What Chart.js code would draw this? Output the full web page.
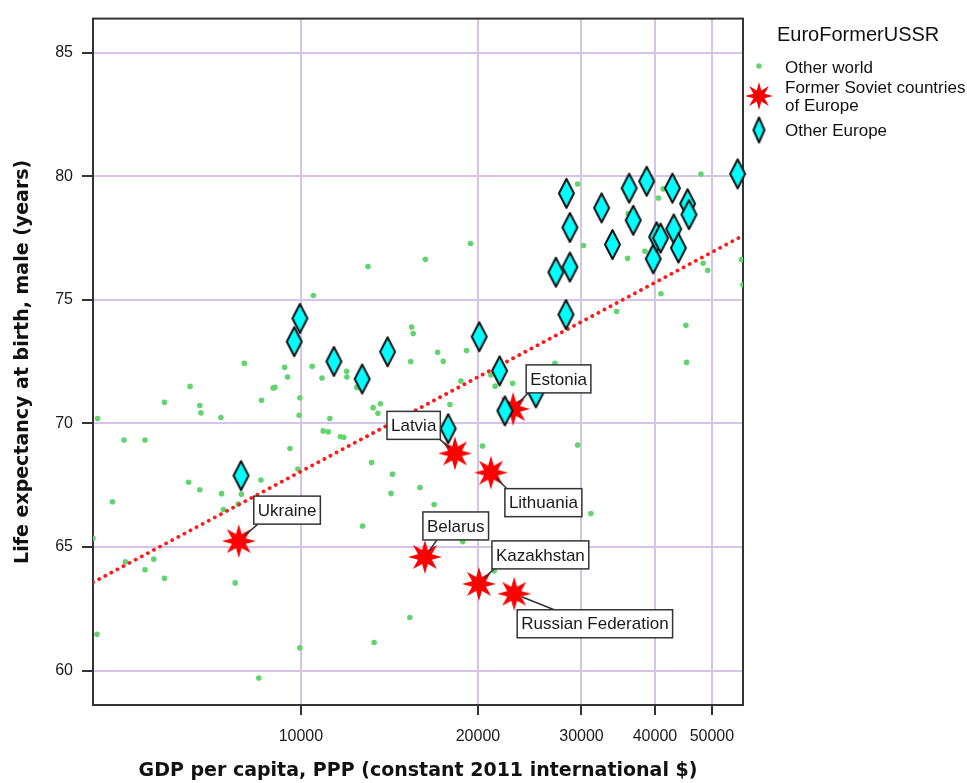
<!DOCTYPE html>
<html>
<head>
<meta charset="utf-8">
<script src="https://cdn.jsdelivr.net/npm/chart.js@4.4.1/dist/chart.umd.min.js"></script>
<style>
  body { margin: 0; background: #fff; }
  canvas { display: block; }
</style>
</head>
<body>
<canvas id="lifeGdp" width="967" height="783"></canvas>
<script>
// Other world
const otherGdp = [13000, 10500, 8010, 9380, 9490, 10450, 10860, 11960, 11970, 12450,
  6480, 5860, 6730, 6760, 7310, 8570, 8970, 9030, 9960, 9930,
  11200, 13270, 13520, 13650, 4510, 5000, 5430, 9580, 10910, 11130,
  11670, 11830, 9880, 13190, 14310, 14230, 8550, 6440, 6730, 7330,
  4780, 7920, 7380, 7820, 12730, 4430, 5030, 5620, 5430, 5860,
  7730, 15320, 4500, 13320, 9960, 8480, 16280, 19430, 15430, 15520,
  15370, 17080, 17460, 19130, 18710, 17920, 21040, 21390, 22910, 27040,
  20360, 29550, 15940, 16850, 31130, 18840, 21320, 29550, 47890, 41320,
  40550, 36030, 30230, 35940, 38460, 48320, 49170, 56120, 40950, 34430,
  45160, 45280, 56450];
const otherLife = [76.35, 75.18, 72.43, 72.27, 71.88, 72.31, 71.84, 72.11, 71.88, 71.46,
  71.50, 70.86, 70.73, 70.43, 70.24, 70.94, 71.44, 71.46, 71.04, 70.33,
  70.20, 70.64, 70.41, 70.80, 70.20, 69.33, 69.33, 68.99, 69.70, 69.66,
  69.46, 69.44, 68.16, 68.42, 67.95, 67.17, 67.71, 67.62, 67.32, 67.16,
  66.83, 67.14, 66.52, 66.74, 65.85, 65.35, 64.40, 64.51, 64.08, 63.74,
  63.55, 62.15, 61.47, 61.14, 60.92, 59.70, 76.64, 77.28, 73.90, 73.64,
  72.51, 72.88, 72.52, 72.95, 71.72, 70.77, 71.96, 71.51, 71.63, 72.43,
  69.09, 69.13, 67.41, 66.72, 66.36, 65.22, 64.04, 79.69, 80.09, 79.49,
  79.12, 78.49, 77.20, 76.68, 76.97, 76.48, 76.20, 76.63, 75.25, 74.53,
  73.97, 72.47, 75.61];

// Other Europe
const europeGdp = [7910, 9740, 9960, 11380, 12710, 14040, 17800, 20100, 21770, 22230,
  25100, 27140, 28670, 28230, 28280, 28670, 32460, 33870, 36160, 36740,
  38720, 39730, 40270, 40900, 43050, 43850, 42830, 45460, 45700, 55300];
const europeLife = [67.89, 73.31, 74.25, 72.51, 71.80, 72.90, 69.79, 73.51, 72.13, 70.51,
  71.24, 76.12, 76.33, 74.41, 79.31, 77.93, 78.72, 77.24, 79.52, 78.22,
  79.80, 76.66, 77.55, 77.50, 77.87, 77.10, 79.52, 78.89, 78.45, 80.10];

// Former Soviet countries of Europe
const sovietNames = ['Ukraine', 'Belarus', 'Latvia', 'Lithuania', 'Estonia', 'Kazakhstan', 'Russian Federation'];
const sovietGdp = [7840, 16250, 18280, 21040, 22960, 20080, 23050];
const sovietLife = [65.24, 64.60, 68.79, 68.01, 70.59, 63.51, 63.11];

// fit line end points
const fitGdp = [4430, 56470];
const fitLife = [63.57, 77.6];

const xTicks = [10000, 20000, 30000, 40000, 50000];
const yTicks = [60, 65, 70, 75, 80, 85];

// label box top-left offset from the star, and where the leader meets the box
const labelOffset = [[15, -45], [-2, -45], [-68, -42], [14, 16], [13, -44], [13, -43], [3, 16]];
const leaderEnd = [[4, 28], [14, 28], [53, 28], [2, 0], [2, 28], [2, 28], [37, 0]];

const sansFont = "'Liberation Sans', Arial, sans-serif";
const boldFont = "'DejaVu Sans', Verdana, sans-serif";

function makeDiamond(w, h) {
  const c = document.createElement('canvas');
  c.width = w + 4;
  c.height = h + 4;
  const g = c.getContext('2d');
  g.beginPath();
  g.moveTo(c.width / 2, 2);
  g.lineTo(c.width - 2, c.height / 2);
  g.lineTo(c.width / 2, c.height - 2);
  g.lineTo(2, c.height / 2);
  g.closePath();
  g.fillStyle = '#00ffff';
  g.fill();
  g.lineWidth = 2;
  g.lineJoin = 'round';
  g.strokeStyle = '#111';
  g.stroke();
  return c;
}

function makeStar(r, inner, spikes) {
  const c = document.createElement('canvas');
  c.width = c.height = r * 2 + 2;
  const g = c.getContext('2d');
  const cx = c.width / 2;
  g.beginPath();
  for (let i = 0; i < spikes * 2; i++) {
    const a = -Math.PI / 2 + i * Math.PI / spikes;
    const rr = i % 2 === 0 ? r : inner;
    g.lineTo(cx + rr * Math.cos(a), cx + rr * Math.sin(a));
  }
  g.closePath();
  g.fillStyle = '#ff0000';
  g.fill();
  return c;
}

const diamondImg = makeDiamond(15, 29);
const legendDiamond = makeDiamond(11, 25);
const starImg = makeStar(17, 7.5, 8);
const legendStar = makeStar(14, 6, 8);

const pts = (xs, ys) => xs.map((v, i) => ({ x: v, y: ys[i] }));

const decorations = {
  id: 'decorations',
  beforeDatasetsDraw(chart) {
    const { ctx, chartArea: a } = chart;
    ctx.save();
    ctx.strokeStyle = '#333';
    ctx.lineWidth = 2;
    ctx.strokeRect(a.left, a.top, a.right - a.left, a.bottom - a.top);
    ctx.restore();
  },
  afterDatasetsDraw(chart) {
    const { ctx, scales: { x, y } } = chart;
    ctx.save();
    ctx.font = '17px ' + sansFont;
    ctx.textBaseline = 'middle';
    sovietNames.forEach((name, i) => {
      const px = x.getPixelForValue(sovietGdp[i]);
      const py = y.getPixelForValue(sovietLife[i]);
      const bx = px + labelOffset[i][0];
      const by = py + labelOffset[i][1];
      const w = ctx.measureText(name).width + 8;
      const h = 28;
      const ex = bx + leaderEnd[i][0];
      const ey = by + leaderEnd[i][1];
      const d = Math.hypot(ex - px, ey - py);
      ctx.beginPath();
      ctx.moveTo(px + (ex - px) * 8 / d, py + (ey - py) * 8 / d);
      ctx.lineTo(ex, ey);
      ctx.strokeStyle = '#333';
      ctx.lineWidth = 1.5;
      ctx.stroke();
      ctx.fillStyle = '#fff';
      ctx.fillRect(bx, by, w, h);
      ctx.strokeRect(bx, by, w, h);
      ctx.fillStyle = '#1a1a1a';
      ctx.fillText(name, bx + 4, by + h / 2 + 1);
    });
    ctx.restore();
  },
  afterDraw(chart) {
    const { ctx, chartArea: a } = chart;
    ctx.save();
    // axis titles
    ctx.fillStyle = '#111';
    ctx.font = 'bold 19px ' + boldFont;
    ctx.textAlign = 'center';
    ctx.textBaseline = 'middle';
    ctx.fillText('GDP per capita, PPP (constant 2011 international $)', (a.left + a.right) / 2, 771);
    ctx.save();
    ctx.translate(23, (a.top + a.bottom) / 2);
    ctx.rotate(-Math.PI / 2);
    ctx.fillText('Life expectancy at birth, male (years)', 0, 0);
    ctx.restore();

    // legend
    ctx.textAlign = 'left';
    ctx.fillStyle = '#111';
    ctx.font = '20px ' + sansFont;
    ctx.fillText('EuroFormerUSSR', 777, 35);
    ctx.font = '17px ' + sansFont;
    ctx.fillText('Other world', 785, 68);
    ctx.fillText('Former Soviet countries', 785, 88);
    ctx.fillText('of Europe', 785, 106);
    ctx.fillText('Other Europe', 785, 131);
    ctx.fillStyle = '#62d46f';
    ctx.beginPath();
    ctx.arc(759, 66, 2.7, 0, Math.PI * 2);
    ctx.fill();
    ctx.drawImage(legendStar, 759 - legendStar.width / 2, 96 - legendStar.height / 2);
    ctx.drawImage(legendDiamond, 759 - legendDiamond.width / 2, 130 - legendDiamond.height / 2);
    ctx.restore();
  }
};

const gridColor = '#d6c4e8';

new Chart(document.getElementById('lifeGdp'), {
  type: 'scatter',
  data: {
    datasets: [
      {
        label: 'Other Europe',
        data: pts(europeGdp, europeLife),
        pointStyle: diamondImg,
        clip: false,
        order: 0
      },
      {
        label: 'Former Soviet countries of Europe',
        data: pts(sovietGdp, sovietLife),
        pointStyle: starImg,
        clip: false,
        order: 1
      },
      {
        label: 'Fit',
        data: pts(fitGdp, fitLife),
        showLine: true,
        pointRadius: 0,
        borderColor: '#ff1a1a',
        borderWidth: 3.8,
        borderDash: [0.1, 6.8],
        borderCapStyle: 'round',
        order: 2
      },
      {
        label: 'Other world',
        data: pts(otherGdp, otherLife),
        pointRadius: 2.8,
        pointBorderWidth: 0,
        backgroundColor: '#62d46f',
        borderColor: '#62d46f',
        order: 3
      }
    ]
  },
  options: {
    responsive: false,
    animation: false,
    events: [],
    layout: { padding: { top: 13, right: 224, left: 0, bottom: 0 } },
    plugins: {
      legend: { display: false },
      tooltip: { enabled: false }
    },
    scales: {
      x: {
        type: 'logarithmic',
        min: 4430,
        max: 56470,
        bounds: 'data',
        afterBuildTicks: s => { s.ticks = xTicks.map(v => ({ value: v })); },
        afterFit: s => { s.height = 78; },
        grid: { color: gridColor, lineWidth: 2, tickColor: '#333', tickLength: 10, tickWidth: 2 },
        border: { display: false },
        ticks: {
          callback: v => String(v),
          autoSkip: false,
          maxRotation: 0,
          padding: 12,
          color: '#1a1a1a',
          font: { family: sansFont, size: 16 }
        }
      },
      y: {
        min: 58.61,
        max: 86.38,
        bounds: 'data',
        afterBuildTicks: s => { s.ticks = yTicks.map(v => ({ value: v })); },
        afterFit: s => { s.width = 93; },
        grid: { color: gridColor, lineWidth: 2, tickColor: '#333', tickLength: 11, tickWidth: 2 },
        border: { display: false },
        ticks: {
          callback: v => String(v),
          padding: 9,
          color: '#1a1a1a',
          font: { family: sansFont, size: 16 }
        }
      }
    }
  },
  plugins: [decorations]
});
</script>
</body>
</html>
